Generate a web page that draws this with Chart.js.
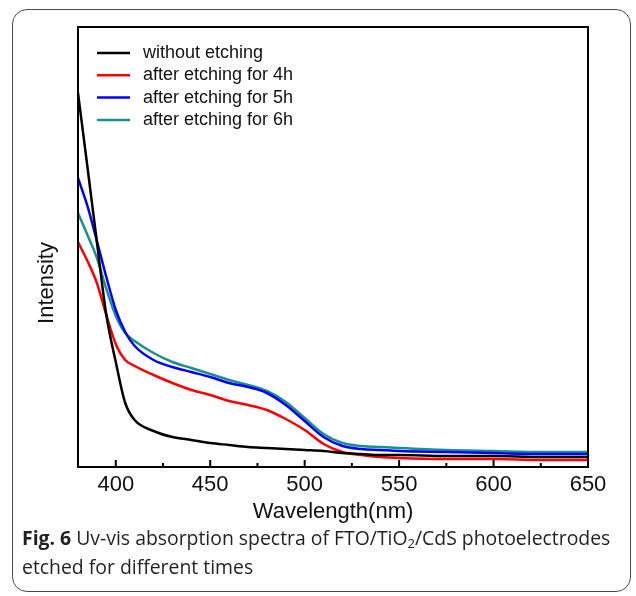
<!DOCTYPE html>
<html>
<head>
<meta charset="utf-8">
<script src="https://cdn.jsdelivr.net/npm/chart.js@4.4.1/dist/chart.umd.min.js"></script>
<style>
  html, body { margin: 0; padding: 0; background: #fff; }
  #wrap { position: relative; width: 636px; height: 596px; overflow: hidden; }
  #frame {
    position: absolute; left: 12px; top: 9px; width: 619px; height: 583px;
    border: 1.5px solid #4a4a4a; border-radius: 15px; box-sizing: border-box;
  }
  #c { position: absolute; left: 0; top: 0; }
  .cap {
    position: absolute; left: 22px; font-family: "Open Sans", "Noto Sans", sans-serif;
    font-size: 19.4px; color: #231f20; white-space: nowrap;
  }
  .cap b { font-weight: 700; }
  .cap sub { font-size: 13px; vertical-align: -3px; line-height: 0; }
</style>
</head>
<body>
<div id="wrap">
  <div id="frame"></div>
  <canvas id="c" width="636" height="596"></canvas>
  <div class="cap" style="top:524px"><b>Fig. 6</b> Uv-vis absorption spectra of FTO/TiO<sub>2</sub>/CdS photoelectrodes</div>
  <div class="cap" style="top:553px">etched for different times</div>
</div>
<script>
// wavelength (nm)
const wavelengths = [380, 385, 390, 395, 400, 405, 410, 420, 430, 440, 450, 460, 470, 480, 490, 500, 510, 520, 530, 540, 550, 575, 600, 625, 650];
// intensity (arb. units)
const noEtching = [374, 300, 225, 152, 105, 64, 47, 36, 30, 27, 24, 22, 20, 19, 18, 17, 16, 14, 13, 12, 12, 11, 11, 10, 10];
const etch4h    = [225, 206, 184, 152, 123, 107, 101, 92, 84, 77, 72, 66, 62, 57, 48, 37, 23, 15, 12, 10, 9, 8, 8, 7, 7];
const etch5h    = [289, 261, 226, 190, 157, 135, 121, 107, 100, 95, 90, 84, 80, 74, 62, 46, 30, 21, 18, 17, 16, 15, 14, 13, 13];
const etch6h    = [254, 232, 209, 178, 151, 134, 126, 114, 105, 99, 93, 87, 82, 76, 65, 49, 33, 24, 21, 20, 19, 17, 16, 15, 15];
const seriesNames = ['without etching', 'after etching for 4h', 'after etching for 5h', 'after etching for 6h'];
const seriesColors = ['#000000', '#ff0000', '#0000ff', '#17918c'];
const xTicks = [400, 450, 500, 550, 600, 650];
const xMinorTicks = [425, 475, 525, 575, 625];

const allSeries = [noEtching, etch4h, etch5h, etch6h];

const datasets = allSeries.map((vals, i) => ({
  label: seriesNames[i],
  data: wavelengths.map((w, j) => ({ x: w, y: vals[j] })),
  borderColor: seriesColors[i],
  borderWidth: 2.5,
  pointRadius: 0,
  cubicInterpolationMode: 'monotone',
  fill: false
}));

// bingkai, tick ke dalam, legenda, judul sumbu y
const framePlugin = {
  id: 'frameBox',
  afterDraw(chart) {
    const { ctx, chartArea: a, scales } = chart;
    const xs = scales.x;
    ctx.save();
    ctx.strokeStyle = '#000';
    ctx.lineWidth = 2;
    ctx.strokeRect(a.left, a.top, a.right - a.left, a.bottom - a.top);

    ctx.beginPath();
    xTicks.forEach(v => {
      const px = xs.getPixelForValue(v);
      ctx.moveTo(px, a.bottom);
      ctx.lineTo(px, a.bottom - 7);
    });
    xMinorTicks.forEach(v => {
      const px = xs.getPixelForValue(v);
      ctx.moveTo(px, a.bottom);
      ctx.lineTo(px, a.bottom - 4);
    });
    ctx.stroke();

    // legenda
    ctx.font = '18px "Liberation Sans", Arial, sans-serif';
    ctx.textBaseline = 'middle';
    chart.data.datasets.forEach((ds, i) => {
      const y = 53 + i * 22.3;
      ctx.strokeStyle = ds.borderColor;
      ctx.lineWidth = 2.5;
      ctx.beginPath();
      ctx.moveTo(97, y);
      ctx.lineTo(130, y);
      ctx.stroke();
      ctx.fillStyle = '#111';
      ctx.fillText(ds.label, 143, y);
    });

    // judul sumbu y
    ctx.translate(47, 283);
    ctx.rotate(-Math.PI / 2);
    ctx.textAlign = 'center';
    ctx.font = '22px "Liberation Sans", Arial, sans-serif';
    ctx.fillStyle = '#111';
    ctx.fillText('Intensity', 0, 0);
    ctx.restore();
  }
};

const ctx = document.getElementById('c').getContext('2d');
window.uvChart = new Chart(ctx, {
  type: 'line',
  data: { datasets },
  options: {
    responsive: false,
    animation: false,
    layout: { padding: { left: 0, top: 27, right: 48, bottom: 71 } },
    plugins: {
      legend: { display: false },
      tooltip: { enabled: false }
    },
    scales: {
      x: {
        type: 'linear',
        min: 380,
        max: 650,
        afterBuildTicks: s => { s.ticks = xTicks.map(v => ({ value: v })); },
        afterFit: s => { s.height = 58; },
        grid: { display: false, drawTicks: false },
        border: { display: false },
        ticks: {
          padding: 5,
          maxRotation: 0,
          color: '#111',
          font: { family: '"Liberation Sans", Arial, sans-serif', size: 22 }
        },
        title: {
          display: true,
          text: 'Wavelength(nm)',
          color: '#111',
          padding: { top: 0, bottom: 0 },
          font: { family: '"Liberation Sans", Arial, sans-serif', size: 22 }
        }
      },
      y: {
        min: 0,
        max: 440,
        afterFit: s => { s.width = 78; },
        grid: { display: false },
        border: { display: false },
        ticks: { display: false }
      }
    }
  },
  plugins: [framePlugin]
});
</script>
</body>
</html>
